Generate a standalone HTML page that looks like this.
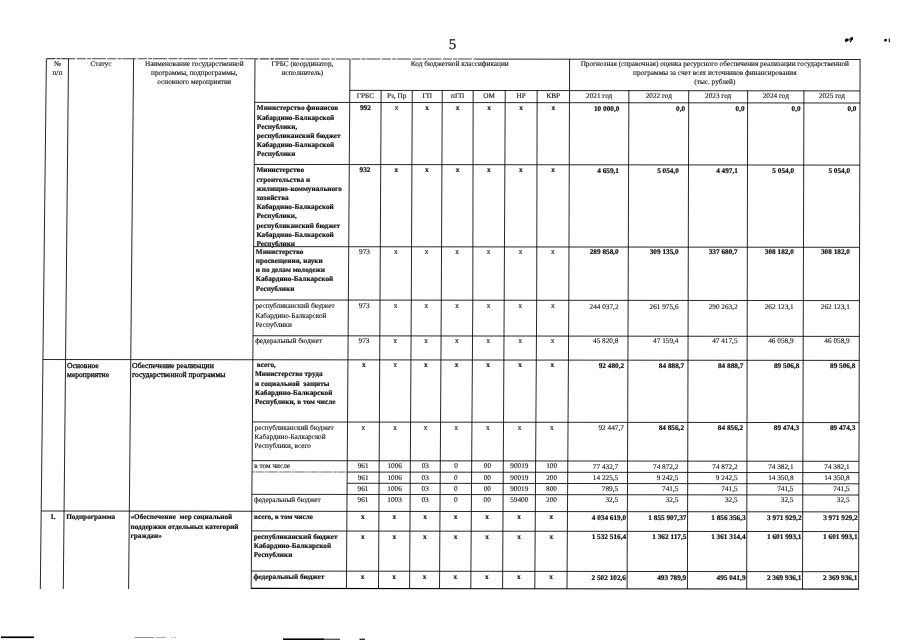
<!DOCTYPE html>
<html lang="ru"><head><meta charset="utf-8"><title>5</title>
<style>
html,body{margin:0;padding:0;background:#fff;}
body{width:905px;height:640px;position:relative;overflow:hidden;font-family:"Liberation Serif",serif;color:#111;}
.t{position:absolute;white-space:nowrap;font-size:7.25px;line-height:9.2px;-webkit-text-stroke:0.12px #111;text-rendering:geometricPrecision;}
.b{font-weight:bold;-webkit-text-stroke:0.2px #111;}
svg{position:absolute;left:0;top:0;}
svg line,svg polyline{stroke:#000;stroke-width:0.85;}
</style></head><body>
<svg width="905" height="640" viewBox="0 0 905 640">
<g fill="none">
<line x1="46.40" y1="59" x2="40.30" y2="589"/>
<line x1="68.50" y1="59" x2="63.30" y2="589"/>
<line x1="133.60" y1="59" x2="128.60" y2="589"/>
<line x1="255.00" y1="59" x2="251.20" y2="589"/>
<line x1="350.00" y1="59" x2="346.40" y2="589"/>
<line x1="381.13" y1="90.5" x2="378.50" y2="589"/>
<polyline points="412.26,90.5 411.30,300.0 409.60,589"/>
<polyline points="442.26,90.5 441.30,300.0 439.50,589"/>
<polyline points="473.15,90.5 472.80,300.0 470.80,589"/>
<polyline points="505.24,90.5 504.20,300.0 502.60,589"/>
<polyline points="537.13,90.5 536.70,300.0 534.80,589"/>
<polyline points="569.60,59 568.80,300.0 567.00,589"/>
<line x1="628.89" y1="90.5" x2="627.10" y2="589"/>
<line x1="688.72" y1="90.5" x2="687.40" y2="589"/>
<line x1="747.64" y1="90.5" x2="746.70" y2="589"/>
<line x1="803.91" y1="90.5" x2="802.50" y2="589"/>
<line x1="860.10" y1="59" x2="858.60" y2="589.5"/>
<line x1="349.79" y1="90.36" x2="860.01" y2="90.92"/>
<line x1="254.69" y1="102.35" x2="859.98" y2="103.02"/>
<line x1="254.24" y1="164.45" x2="859.80" y2="165.12"/>
<line x1="253.65" y1="246.65" x2="859.57" y2="247.32"/>
<line x1="253.27" y1="299.95" x2="859.42" y2="300.62"/>
<line x1="253.02" y1="335.75" x2="859.32" y2="336.42"/>
<line x1="42.94" y1="359.52" x2="859.25" y2="360.42"/>
<line x1="252.40" y1="421.95" x2="859.07" y2="422.62"/>
<line x1="252.12" y1="460.65" x2="858.96" y2="461.32"/>
<line x1="347.19" y1="472.05" x2="858.93" y2="472.62"/>
<line x1="347.12" y1="483.25" x2="858.90" y2="483.82"/>
<line x1="251.88" y1="494.35" x2="858.87" y2="495.02"/>
<line x1="41.19" y1="511.01" x2="858.82" y2="511.92"/>
<line x1="251.62" y1="530.95" x2="858.76" y2="531.62"/>
<line x1="251.33" y1="571.05" x2="858.65" y2="571.72"/>
<line x1="251.20" y1="588.45" x2="858.60" y2="589.12" style="stroke-width:1.19"/>
<line x1="46.40" y1="58.62" x2="476.00" y2="59.09" stroke="#6a6a6a" stroke-dasharray="9 1.2 4 0.8 14 1.5" style="stroke:#444;stroke-width:1.05"/>
<line x1="476.00" y1="59.09" x2="860.10" y2="59.52"/>
<line x1="252.04" y1="471.95" x2="347.19" y2="472.05" style="stroke:#3a3a3a;stroke-width:0.75" stroke-dasharray="3 0.7 8 0.9 2 0.6 11 1"/>
</g>

<g stroke="none" fill="#000">
<path d="M844.9 39.4 l1.6 -1.0 l1.9 0.1 l0.3 1.4 l-1.3 1.6 l-1.7 0.4 l-0.9 -1.0z"/>
<path d="M848.4 40.6 l1.6 -2.0 l0.5 0.3 l-1.5 2.1z"/>
<path d="M850.2 37.5 l2.6 -0.4 l0.4 2.2 l-1.5 1.2 l-0.9 2.0 l-1.0 -0.3 l0.6 -2.2z"/>
<path d="M884.1 39.6 l1.4 -0.9 l1.3 0.5 l0.1 1.5 l-1.4 1.1 l-1.2 -0.6z"/>
<path d="M888.6 38.4 l1.2 0 l0.2 3.8 l-1.2 0z" fill="#222"/>
<rect x="1" y="636.4" width="33" height="1.7"/>
<rect x="283" y="638.4" width="41" height="1.6"/>
<rect x="324" y="638.6" width="16" height="1.4" fill="#555"/>
<rect x="359.5" y="638.6" width="5.5" height="1.4" fill="#333"/>
<rect x="135" y="637.0" width="19" height="0.9" fill="#888"/>
<rect x="156" y="637.2" width="10" height="0.8" fill="#999"/>
<rect x="172" y="637.2" width="1" height="0.8" fill="#999"/>
<rect x="175" y="637.2" width="1" height="0.8" fill="#999"/>
</g>

</svg>
<div class="t" style="left:440.00px;top:36.29px;width:25.00px;text-align:center;font-size:15px;line-height:18px;-webkit-text-stroke-width:0.25px;">5</div>
<div class="t" style="left:46.33px;top:59.92px;width:22.11px;text-align:center;">№<br>п/п</div>
<div class="t" style="left:68.44px;top:59.92px;width:65.10px;text-align:center;">Статус</div>
<div class="t" style="left:133.54px;top:59.92px;width:121.41px;text-align:center;">Наименование государственной<br>программы, подпрограммы,<br>основного мероприятия</div>
<div class="t" style="left:254.95px;top:59.92px;width:95.00px;text-align:center;">ГРБС (координатор,<br>исполнитель)</div>
<div class="t" style="left:349.96px;top:59.92px;width:219.62px;text-align:center;">Код бюджетной классификации</div>
<div class="t" style="left:569.58px;top:59.92px;width:290.50px;text-align:center;">Прогнозная (справочная) оценка ресурсного обеспечения реализации государственной<br>программы за счет всех источников финансирования<br>(тыс. рублей)</div>
<div class="t" style="left:349.74px;top:91.62px;width:31.36px;text-align:center;">ГРБС</div>
<div class="t" style="left:381.10px;top:91.62px;width:31.13px;text-align:center;">Рз, Пр</div>
<div class="t" style="left:412.23px;top:91.62px;width:30.00px;text-align:center;">ГП</div>
<div class="t" style="left:442.23px;top:91.62px;width:30.91px;text-align:center;">пГП</div>
<div class="t" style="left:473.14px;top:91.62px;width:32.07px;text-align:center;">ОМ</div>
<div class="t" style="left:505.21px;top:91.62px;width:31.91px;text-align:center;">НР</div>
<div class="t" style="left:537.12px;top:91.62px;width:32.35px;text-align:center;">КВР</div>
<div class="t" style="left:569.47px;top:92.12px;width:59.39px;text-align:center;">2021 год</div>
<div class="t" style="left:628.86px;top:92.12px;width:59.84px;text-align:center;">2022 год</div>
<div class="t" style="left:688.70px;top:92.12px;width:58.93px;text-align:center;">2023 год</div>
<div class="t" style="left:747.63px;top:92.12px;width:56.26px;text-align:center;">2024 год</div>
<div class="t" style="left:803.89px;top:92.12px;width:56.10px;text-align:center;">2025 год</div>
<div class="t b" style="left:256.84px;top:104.42px;">Министерство финансов<br>Кабардино-Балкарской<br>Республики,<br>республиканский бюджет<br>Кабардино-Балкарской<br>Республики</div>
<div class="t b" style="left:349.65px;top:104.42px;width:31.38px;text-align:center;">992</div>
<div class="t" style="left:381.03px;top:104.42px;width:31.14px;text-align:center;">х</div>
<div class="t b" style="left:412.17px;top:104.42px;width:30.00px;text-align:center;">х</div>
<div class="t b" style="left:442.17px;top:104.42px;width:30.95px;text-align:center;">х</div>
<div class="t b" style="left:473.12px;top:104.42px;width:32.03px;text-align:center;">х</div>
<div class="t b" style="left:505.15px;top:104.42px;width:31.95px;text-align:center;">х</div>
<div class="t b" style="left:537.09px;top:104.42px;width:32.34px;text-align:center;">х</div>
<div class="t b" style="left:539.32px;top:104.72px;width:80.00px;text-align:right;">10 000,0</div>
<div class="t b" style="left:605.07px;top:104.72px;width:80.00px;text-align:right;">0,0</div>
<div class="t b" style="left:664.60px;top:104.72px;width:80.00px;text-align:right;">0,0</div>
<div class="t b" style="left:720.66px;top:104.72px;width:80.00px;text-align:right;">0,0</div>
<div class="t b" style="left:776.46px;top:104.72px;width:80.00px;text-align:right;">0,0</div>
<div class="t b" style="left:256.39px;top:166.42px;">Министерство<br>строительства и<br>жилищно-коммунального<br>хозяйства<br>Кабардино-Балкарской<br>Республики,<br>республиканский бюджет<br>Кабардино-Балкарской<br>Республики</div>
<div class="t b" style="left:349.23px;top:166.42px;width:31.47px;text-align:center;">932</div>
<div class="t b" style="left:380.70px;top:166.42px;width:31.18px;text-align:center;">х</div>
<div class="t b" style="left:411.89px;top:166.42px;width:30.00px;text-align:center;">х</div>
<div class="t b" style="left:441.89px;top:166.42px;width:31.13px;text-align:center;">х</div>
<div class="t b" style="left:473.01px;top:166.42px;width:31.83px;text-align:center;">х</div>
<div class="t b" style="left:504.84px;top:166.42px;width:32.13px;text-align:center;">х</div>
<div class="t b" style="left:536.97px;top:166.42px;width:32.26px;text-align:center;">х</div>
<div class="t b" style="left:538.99px;top:166.72px;width:80.00px;text-align:right;">4 659,1</div>
<div class="t b" style="left:598.90px;top:166.72px;width:80.00px;text-align:right;">5 054,0</div>
<div class="t b" style="left:657.89px;top:166.72px;width:80.00px;text-align:right;">4 497,1</div>
<div class="t b" style="left:714.08px;top:166.72px;width:80.00px;text-align:right;">5 054,0</div>
<div class="t b" style="left:770.18px;top:166.72px;width:80.00px;text-align:right;">5 054,0</div>
<div class="t b" style="left:255.81px;top:247.72px;">Министерство<br>просвещения, науки<br>и по делам молодежи<br>Кабардино-Балкарской<br>Республики</div>
<div class="t" style="left:348.68px;top:247.72px;width:31.59px;text-align:center;">973</div>
<div class="t" style="left:380.27px;top:247.72px;width:31.24px;text-align:center;">х</div>
<div class="t" style="left:411.51px;top:247.72px;width:30.00px;text-align:center;">х</div>
<div class="t" style="left:441.51px;top:247.72px;width:31.36px;text-align:center;">х</div>
<div class="t" style="left:472.88px;top:247.72px;width:31.56px;text-align:center;">х</div>
<div class="t" style="left:504.43px;top:247.72px;width:32.36px;text-align:center;">х</div>
<div class="t" style="left:536.80px;top:247.72px;width:32.16px;text-align:center;">х</div>
<div class="t b" style="left:538.70px;top:248.02px;width:80.00px;text-align:right;">289 858,0</div>
<div class="t b" style="left:598.69px;top:248.02px;width:80.00px;text-align:right;">309 135,0</div>
<div class="t b" style="left:657.73px;top:248.02px;width:80.00px;text-align:right;">337 680,7</div>
<div class="t b" style="left:713.85px;top:248.02px;width:80.00px;text-align:right;">308 182,0</div>
<div class="t b" style="left:769.95px;top:248.02px;width:80.00px;text-align:right;">308 182,0</div>
<div class="t" style="left:255.42px;top:302.42px;">республиканский бюджет<br>Кабардино-Балкарской<br>Республики</div>
<div class="t" style="left:348.31px;top:302.42px;width:31.68px;text-align:center;">973</div>
<div class="t" style="left:379.99px;top:302.42px;width:31.27px;text-align:center;">х</div>
<div class="t" style="left:411.25px;top:302.42px;width:30.00px;text-align:center;">х</div>
<div class="t" style="left:441.25px;top:302.42px;width:31.49px;text-align:center;">х</div>
<div class="t" style="left:472.75px;top:302.42px;width:31.41px;text-align:center;">х</div>
<div class="t" style="left:504.16px;top:302.42px;width:32.49px;text-align:center;">х</div>
<div class="t" style="left:536.65px;top:302.42px;width:32.10px;text-align:center;">х</div>
<div class="t" style="left:538.51px;top:302.72px;width:80.00px;text-align:right;">244 037,2</div>
<div class="t" style="left:598.54px;top:302.72px;width:80.00px;text-align:right;">261 975,6</div>
<div class="t" style="left:657.63px;top:302.72px;width:80.00px;text-align:right;">290 263,2</div>
<div class="t" style="left:713.69px;top:302.72px;width:80.00px;text-align:right;">262 123,1</div>
<div class="t" style="left:769.79px;top:302.72px;width:80.00px;text-align:right;">262 123,1</div>
<div class="t" style="left:255.17px;top:336.92px;">федеральный бюджет</div>
<div class="t" style="left:348.08px;top:336.92px;width:31.73px;text-align:center;">973</div>
<div class="t" style="left:379.80px;top:336.92px;width:31.25px;text-align:center;">х</div>
<div class="t" style="left:411.05px;top:336.92px;width:29.99px;text-align:center;">х</div>
<div class="t" style="left:441.04px;top:336.92px;width:31.47px;text-align:center;">х</div>
<div class="t" style="left:472.51px;top:336.92px;width:31.46px;text-align:center;">х</div>
<div class="t" style="left:503.97px;top:336.92px;width:32.46px;text-align:center;">х</div>
<div class="t" style="left:536.42px;top:336.92px;width:32.11px;text-align:center;">х</div>
<div class="t" style="left:538.38px;top:337.22px;width:80.00px;text-align:right;">45 820,8</div>
<div class="t" style="left:598.45px;top:337.22px;width:80.00px;text-align:right;">47 159,4</div>
<div class="t" style="left:657.56px;top:337.22px;width:80.00px;text-align:right;">47 417,5</div>
<div class="t" style="left:713.60px;top:337.22px;width:80.00px;text-align:right;">46 058,9</div>
<div class="t" style="left:769.70px;top:337.22px;width:80.00px;text-align:right;">46 058,9</div>
<div class="t b" style="left:254.99px;top:361.22px;">&nbsp;всего,<br>Министерство труда<br>и социальной&nbsp; защиты<br>Кабардино-Балкарской<br>Республики, в том числе</div>
<div class="t b" style="left:347.91px;top:361.22px;width:31.76px;text-align:center;">х</div>
<div class="t" style="left:379.67px;top:361.22px;width:31.23px;text-align:center;">х</div>
<div class="t b" style="left:410.91px;top:361.22px;width:29.98px;text-align:center;">х</div>
<div class="t b" style="left:440.89px;top:361.22px;width:31.45px;text-align:center;">х</div>
<div class="t b" style="left:472.34px;top:361.22px;width:31.49px;text-align:center;">х</div>
<div class="t b" style="left:503.83px;top:361.22px;width:32.43px;text-align:center;">х</div>
<div class="t b" style="left:536.26px;top:361.22px;width:32.12px;text-align:center;">х</div>
<div class="t b" style="left:544.10px;top:361.52px;width:80.00px;text-align:right;">92 480,2</div>
<div class="t b" style="left:604.19px;top:361.52px;width:80.00px;text-align:right;">84 888,7</div>
<div class="t b" style="left:663.32px;top:361.52px;width:80.00px;text-align:right;">84 888,7</div>
<div class="t b" style="left:719.33px;top:361.52px;width:80.00px;text-align:right;">89 506,8</div>
<div class="t b" style="left:775.43px;top:361.52px;width:80.00px;text-align:right;">89 506,8</div>
<div class="t" style="left:67.10px;top:361.48px;font-size:7.6px;line-height:9.0px;-webkit-text-stroke-width:0.32px;">Основное<br>мероприятие</div>
<div class="t" style="left:132.11px;top:361.48px;font-size:7.65px;line-height:9.0px;-webkit-text-stroke-width:0.32px;">Обеспечение реализации<br>государственной программы</div>
<div class="t" style="left:254.55px;top:423.52px;">республиканский бюджет<br>Кабардино-Балкарской<br>Республики, всего</div>
<div class="t" style="left:347.49px;top:423.52px;width:31.86px;text-align:center;">х</div>
<div class="t" style="left:379.35px;top:423.52px;width:31.20px;text-align:center;">х</div>
<div class="t" style="left:410.54px;top:423.52px;width:29.96px;text-align:center;">х</div>
<div class="t" style="left:440.50px;top:423.52px;width:31.41px;text-align:center;">х</div>
<div class="t" style="left:471.91px;top:423.52px;width:31.58px;text-align:center;">х</div>
<div class="t" style="left:503.49px;top:423.52px;width:32.37px;text-align:center;">х</div>
<div class="t" style="left:535.85px;top:423.52px;width:32.14px;text-align:center;">х</div>
<div class="t" style="left:543.87px;top:423.82px;width:80.00px;text-align:right;">92 447,7</div>
<div class="t b" style="left:604.02px;top:423.82px;width:80.00px;text-align:right;">84 856,2</div>
<div class="t b" style="left:663.20px;top:423.82px;width:80.00px;text-align:right;">84 856,2</div>
<div class="t b" style="left:719.15px;top:423.82px;width:80.00px;text-align:right;">89 474,3</div>
<div class="t b" style="left:775.25px;top:423.82px;width:80.00px;text-align:right;">89 474,3</div>
<div class="t" style="left:254.27px;top:462.32px;">в том числе</div>
<div class="t" style="left:347.22px;top:462.32px;width:31.92px;text-align:center;">961</div>
<div class="t" style="left:379.14px;top:462.32px;width:31.17px;text-align:center;">1006</div>
<div class="t" style="left:410.31px;top:462.32px;width:29.94px;text-align:center;">03</div>
<div class="t" style="left:440.26px;top:462.32px;width:31.38px;text-align:center;">0</div>
<div class="t" style="left:471.64px;top:462.32px;width:31.63px;text-align:center;">00</div>
<div class="t" style="left:503.27px;top:462.32px;width:32.33px;text-align:center;">90019</div>
<div class="t" style="left:535.60px;top:462.32px;width:32.16px;text-align:center;">100</div>
<div class="t" style="left:538.23px;top:462.62px;width:80.00px;text-align:right;">77 432,7</div>
<div class="t" style="left:598.42px;top:462.62px;width:80.00px;text-align:right;">74 872,2</div>
<div class="t" style="left:657.63px;top:462.62px;width:80.00px;text-align:right;">74 872,2</div>
<div class="t" style="left:713.54px;top:462.62px;width:80.00px;text-align:right;">74 382,1</div>
<div class="t" style="left:769.64px;top:462.62px;width:80.00px;text-align:right;">74 382,1</div>
<div class="t" style="left:347.15px;top:473.52px;width:31.93px;text-align:center;">961</div>
<div class="t" style="left:379.08px;top:473.52px;width:31.17px;text-align:center;">1006</div>
<div class="t" style="left:410.25px;top:473.52px;width:29.94px;text-align:center;">03</div>
<div class="t" style="left:440.19px;top:473.52px;width:31.38px;text-align:center;">0</div>
<div class="t" style="left:471.56px;top:473.52px;width:31.65px;text-align:center;">00</div>
<div class="t" style="left:503.21px;top:473.52px;width:32.31px;text-align:center;">90019</div>
<div class="t" style="left:535.52px;top:473.52px;width:32.16px;text-align:center;">200</div>
<div class="t" style="left:538.19px;top:473.82px;width:80.00px;text-align:right;">14 225,5</div>
<div class="t" style="left:598.39px;top:473.82px;width:80.00px;text-align:right;">9 242,5</div>
<div class="t" style="left:657.61px;top:473.82px;width:80.00px;text-align:right;">9 242,5</div>
<div class="t" style="left:713.51px;top:473.82px;width:80.00px;text-align:right;">14 350,8</div>
<div class="t" style="left:769.61px;top:473.82px;width:80.00px;text-align:right;">14 350,8</div>
<div class="t" style="left:347.07px;top:484.72px;width:31.95px;text-align:center;">961</div>
<div class="t" style="left:379.02px;top:484.72px;width:31.16px;text-align:center;">1006</div>
<div class="t" style="left:410.18px;top:484.72px;width:29.93px;text-align:center;">03</div>
<div class="t" style="left:440.12px;top:484.72px;width:31.37px;text-align:center;">0</div>
<div class="t" style="left:471.48px;top:484.72px;width:31.66px;text-align:center;">00</div>
<div class="t" style="left:503.15px;top:484.72px;width:32.30px;text-align:center;">90019</div>
<div class="t" style="left:535.45px;top:484.72px;width:32.17px;text-align:center;">800</div>
<div class="t" style="left:538.15px;top:485.02px;width:80.00px;text-align:right;">789,5</div>
<div class="t" style="left:598.36px;top:485.02px;width:80.00px;text-align:right;">741,5</div>
<div class="t" style="left:657.59px;top:485.02px;width:80.00px;text-align:right;">741,5</div>
<div class="t" style="left:713.48px;top:485.02px;width:80.00px;text-align:right;">741,5</div>
<div class="t" style="left:769.58px;top:485.02px;width:80.00px;text-align:right;">741,5</div>
<div class="t" style="left:254.03px;top:495.72px;">федеральный бюджет</div>
<div class="t" style="left:347.00px;top:495.72px;width:31.97px;text-align:center;">961</div>
<div class="t" style="left:378.96px;top:495.72px;width:31.15px;text-align:center;">1003</div>
<div class="t" style="left:410.12px;top:495.72px;width:29.93px;text-align:center;">03</div>
<div class="t" style="left:440.05px;top:495.72px;width:31.36px;text-align:center;">0</div>
<div class="t" style="left:471.41px;top:495.72px;width:31.68px;text-align:center;">00</div>
<div class="t" style="left:503.09px;top:495.72px;width:32.29px;text-align:center;">59400</div>
<div class="t" style="left:535.38px;top:495.72px;width:32.17px;text-align:center;">200</div>
<div class="t" style="left:538.11px;top:496.02px;width:80.00px;text-align:right;">32,5</div>
<div class="t" style="left:598.33px;top:496.02px;width:80.00px;text-align:right;">32,5</div>
<div class="t" style="left:657.57px;top:496.02px;width:80.00px;text-align:right;">32,5</div>
<div class="t" style="left:713.45px;top:496.02px;width:80.00px;text-align:right;">32,5</div>
<div class="t" style="left:769.55px;top:496.02px;width:80.00px;text-align:right;">32,5</div>
<div class="t b" style="left:253.90px;top:513.42px;">всего, в том числе</div>
<div class="t b" style="left:346.88px;top:513.42px;width:31.99px;text-align:center;">х</div>
<div class="t b" style="left:378.87px;top:513.42px;width:31.14px;text-align:center;">х</div>
<div class="t b" style="left:410.01px;top:513.42px;width:29.92px;text-align:center;">х</div>
<div class="t b" style="left:439.94px;top:513.42px;width:31.35px;text-align:center;">х</div>
<div class="t b" style="left:471.29px;top:513.42px;width:31.70px;text-align:center;">х</div>
<div class="t b" style="left:502.99px;top:513.42px;width:32.27px;text-align:center;">х</div>
<div class="t b" style="left:535.26px;top:513.42px;width:32.18px;text-align:center;">х</div>
<div class="t b" style="left:546.15px;top:513.72px;width:80.00px;text-align:right;">4 034 619,0</div>
<div class="t b" style="left:606.38px;top:513.72px;width:80.00px;text-align:right;">1 855 907,37</div>
<div class="t b" style="left:665.63px;top:513.72px;width:80.00px;text-align:right;">1 856 356,3</div>
<div class="t b" style="left:721.50px;top:513.72px;width:80.00px;text-align:right;">3 971 929,2</div>
<div class="t b" style="left:777.60px;top:513.72px;width:80.00px;text-align:right;">3 971 929,2</div>
<div class="t b" style="left:50.13px;top:513.42px;">1.</div>
<div class="t b" style="left:66.21px;top:513.42px;">Подпрограмма</div>
<div class="t b" style="left:130.48px;top:513.42px;">«Обеспечение&nbsp; мер социальной<br>поддержки отдельных категорий<br>граждан»</div>
<div class="t b" style="left:253.76px;top:533.02px;">республиканский бюджет<br>Кабардино-Балкарской<br>Республики</div>
<div class="t b" style="left:346.74px;top:533.02px;width:32.02px;text-align:center;">х</div>
<div class="t b" style="left:378.77px;top:533.02px;width:31.13px;text-align:center;">х</div>
<div class="t b" style="left:409.90px;top:533.02px;width:29.92px;text-align:center;">х</div>
<div class="t b" style="left:439.82px;top:533.02px;width:31.34px;text-align:center;">х</div>
<div class="t b" style="left:471.15px;top:533.02px;width:31.73px;text-align:center;">х</div>
<div class="t b" style="left:502.88px;top:533.02px;width:32.25px;text-align:center;">х</div>
<div class="t b" style="left:535.13px;top:533.02px;width:32.18px;text-align:center;">х</div>
<div class="t b" style="left:546.08px;top:533.32px;width:80.00px;text-align:right;">1 532 516,4</div>
<div class="t b" style="left:606.33px;top:533.32px;width:80.00px;text-align:right;">1 362 117,5</div>
<div class="t b" style="left:665.59px;top:533.32px;width:80.00px;text-align:right;">1 361 314,4</div>
<div class="t b" style="left:721.44px;top:533.32px;width:80.00px;text-align:right;">1 601 993,1</div>
<div class="t b" style="left:777.54px;top:533.32px;width:80.00px;text-align:right;">1 601 993,1</div>
<div class="t b" style="left:253.47px;top:573.42px;">федеральный бюджет</div>
<div class="t b" style="left:346.47px;top:573.42px;width:32.08px;text-align:center;">х</div>
<div class="t b" style="left:378.55px;top:573.42px;width:31.11px;text-align:center;">х</div>
<div class="t b" style="left:409.66px;top:573.42px;width:29.90px;text-align:center;">х</div>
<div class="t b" style="left:439.56px;top:573.42px;width:31.31px;text-align:center;">х</div>
<div class="t b" style="left:470.87px;top:573.42px;width:31.79px;text-align:center;">х</div>
<div class="t b" style="left:502.66px;top:573.42px;width:32.21px;text-align:center;">х</div>
<div class="t b" style="left:534.87px;top:573.42px;width:32.20px;text-align:center;">х</div>
<div class="t b" style="left:545.94px;top:573.72px;width:80.00px;text-align:right;">2 502 102,6</div>
<div class="t b" style="left:606.23px;top:573.72px;width:80.00px;text-align:right;">493 789,9</div>
<div class="t b" style="left:665.52px;top:573.72px;width:80.00px;text-align:right;">495 041,9</div>
<div class="t b" style="left:721.33px;top:573.72px;width:80.00px;text-align:right;">2 369 936,1</div>
<div class="t b" style="left:777.43px;top:573.72px;width:80.00px;text-align:right;">2 369 936,1</div>
</body></html>
